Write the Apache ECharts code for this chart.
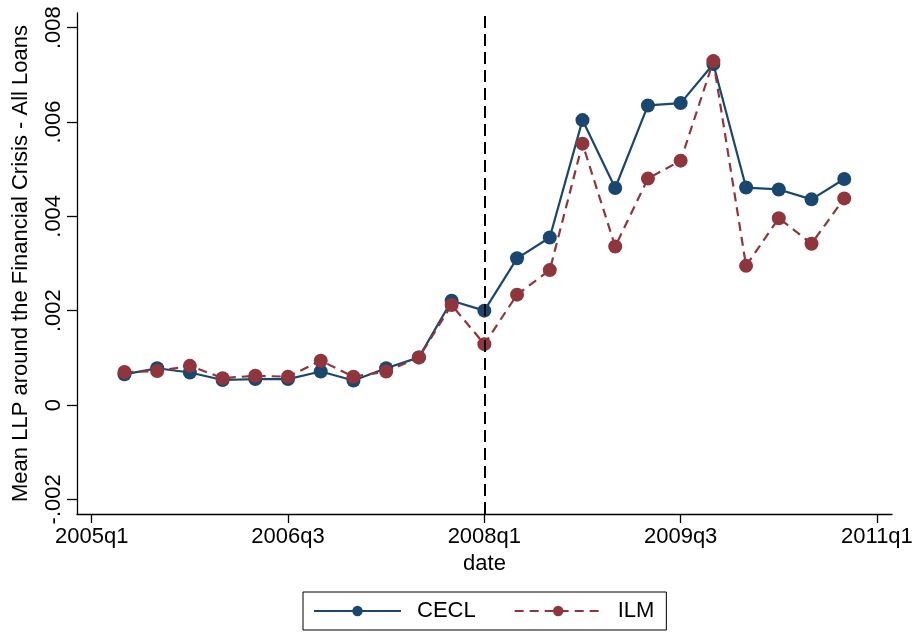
<!DOCTYPE html>
<html>
<head>
<meta charset="utf-8">
<script src="https://cdn.jsdelivr.net/npm/echarts@6/dist/echarts.min.js"></script>
<style>html,body{margin:0;padding:0;background:#fff}#c{width:919px;height:634px}</style>
</head>
<body>
<div id="c"></div>
<script>
var quarters = ["2005q2","2005q3","2005q4","2006q1","2006q2","2006q3","2006q4","2007q1","2007q2","2007q3","2007q4","2008q1","2008q2","2008q3","2008q4","2009q1","2009q2","2009q3","2009q4","2010q1","2010q2","2010q3","2010q4"];
var cecl = [0.00065,0.00078,0.00069,0.00053,0.00055,0.00055,0.00071,0.00052,0.00078,0.00101,0.00221,0.00200,0.00311,0.00355,0.00604,0.00460,0.00635,0.00640,0.00723,0.00461,0.00457,0.00436,0.00479];
var ilm  = [0.00070,0.00072,0.00083,0.00057,0.00062,0.00060,0.00094,0.00060,0.00071,0.00101,0.00212,0.00129,0.00234,0.00286,0.00554,0.00336,0.00480,0.00518,0.00729,0.00295,0.00396,0.00342,0.00438];
var xTickLabels = ["2005q1","2006q3","2008q1","2009q3","2011q1"];
var yTickValues = [-0.002,0,0.002,0.004,0.006,0.008];
var yTickLabels = ["-.002","0",".002",".004",".006",".008"];
var eventQuarter = "2008q1";

function qIndex(s){ var y = parseInt(s.slice(0,4),10), q = parseInt(s.slice(5),10); return (y-2005)*4 + q - 1; }
var xTickValues = xTickLabels.map(qIndex);
function pairs(vals){ return quarters.map(function(q,i){ return [qIndex(q), vals[i]]; }); }

var FONT = "Liberation Sans, Arial, sans-serif";
var BLUE = "#1a476f", RED = "#90353b";

var chart = echarts.init(document.getElementById('c'), null, {renderer:'canvas'});
chart.setOption({
  animation:false,
  backgroundColor:'#ffffff',
  textStyle:{fontFamily:FONT},
  grid:{left:77, right:27, top:13, bottom:120, containLabel:false},
  xAxis:{
    type:'value', min:-0.45, max:24.46,
    name:'date', nameLocation:'middle', nameGap:32,
    nameTextStyle:{color:'#000', fontSize:22, fontFamily:FONT},
    axisLine:{show:true, onZero:false, lineStyle:{color:'#000', width:1.3}},
    axisTick:{show:true, length:9, customValues:xTickValues, lineStyle:{color:'#000', width:1.3}},
    axisLabel:{customValues:xTickValues, color:'#000', fontSize:22, fontFamily:FONT, margin:12,
      formatter:function(v){ var i = xTickValues.indexOf(Math.round(v)); return i>=0 ? xTickLabels[i] : ''; }},
    splitLine:{show:false}
  },
  yAxis:{
    type:'value', min:-0.00231, max:0.00831,
    name:'Mean LLP around the Financial Crisis - All Loans', nameLocation:'middle', nameRotate:90, nameGap:45,
    nameTextStyle:{color:'#000', fontSize:22, fontFamily:FONT},
    axisLine:{show:true, onZero:false, lineStyle:{color:'#000', width:1.3}},
    axisTick:{show:true, length:10, customValues:yTickValues, lineStyle:{color:'#000', width:1.3}},
    axisLabel:{customValues:yTickValues, rotate:90, color:'#000', fontSize:22, fontFamily:FONT, margin:12,
      formatter:function(v){ for (var i=0;i<yTickValues.length;i++){ if (Math.abs(yTickValues[i]-v)<1e-9) return yTickLabels[i]; } return ''; }},
    splitLine:{show:false}
  },
  legend:{
    left:303, top:592, orient:'horizontal',
    borderColor:'#000', borderWidth:1, padding:[8,12,8,10],
    itemWidth:87, itemHeight:13, itemGap:38,
    textStyle:{color:'#000', fontSize:22, fontFamily:FONT, padding:[0,0,0,11]},
    data:['CECL','ILM']
  },
  series:[
    {name:'CECL', type:'line', data:pairs(cecl), symbol:'circle', symbolSize:14,
      lineStyle:{color:BLUE, width:2.2}, itemStyle:{color:BLUE}, z:3,
      markLine:{silent:true, symbol:['none','none'], label:{show:false},
        lineStyle:{color:'#000', width:2, type:[12,6]},
        data:[{xAxis:qIndex(eventQuarter)}]}},
    {name:'ILM', type:'line', data:pairs(ilm), symbol:'circle', symbolSize:14,
      lineStyle:{color:RED, width:2.2, type:[9,6]}, itemStyle:{color:RED}, z:4}
  ]
});
</script>
</body>
</html>
